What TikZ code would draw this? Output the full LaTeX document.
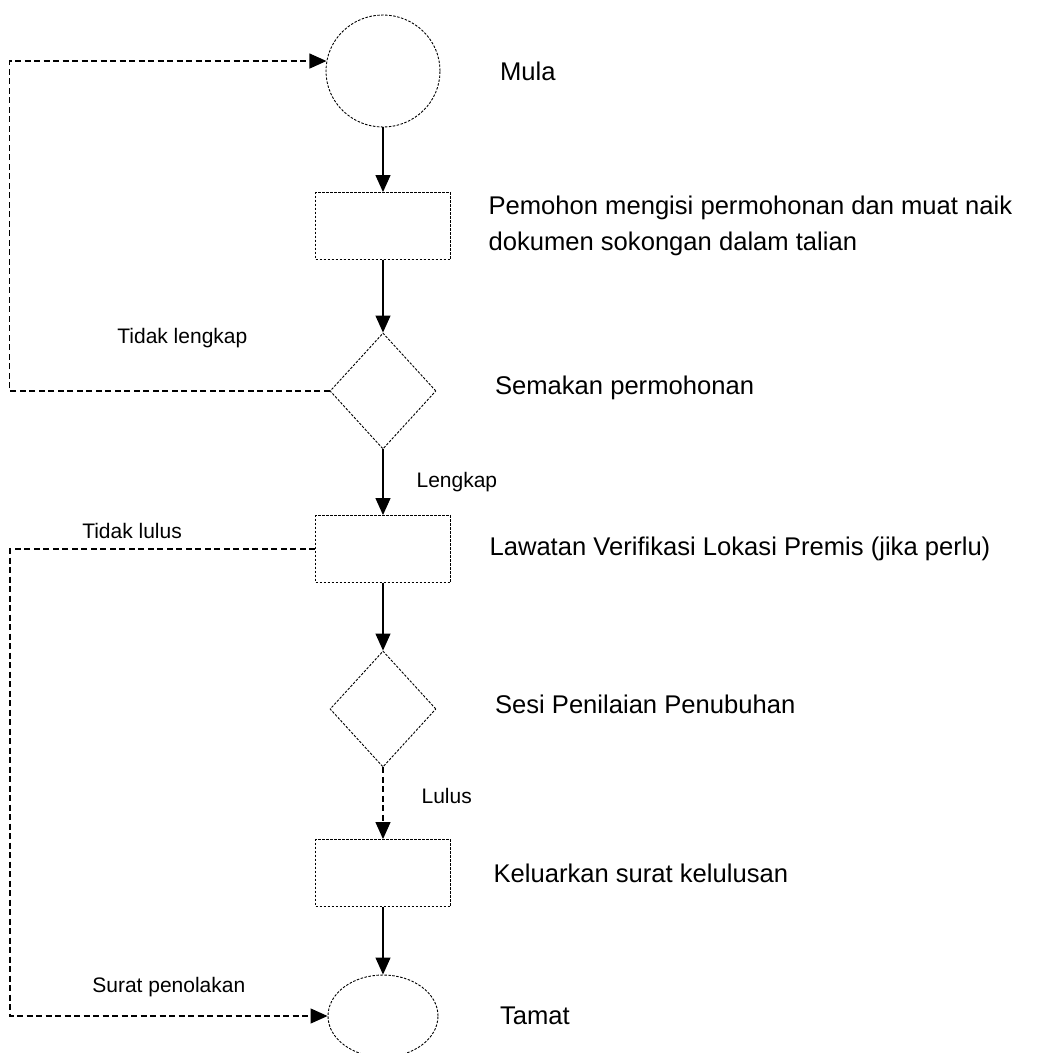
\documentclass[tikz,border=0pt]{standalone}
\usepackage{fontspec}
\setmainfont{Liberation Sans}
\usetikzlibrary{positioning,shapes.geometric,arrows.meta}

\begin{document}
\begin{tikzpicture}[node distance={160pt}, line width=1.2pt,
    >={Triangle[width=15pt,length=17pt]},
    outline/.style={draw, line width=0.9pt, dash pattern=on 2.5pt off 1.5pt, inner sep=0pt},
    terminal/.style={outline, ellipse},
    process/.style={outline, rectangle, minimum width=135pt, minimum height=67pt},
    decision/.style={outline, diamond, minimum width=106pt, minimum height=116pt},
    note/.style={inner sep=0pt, font=\fontsize{25.6}{36}\selectfont, align=left},
    tag/.style={inner sep=0pt, font=\fontsize{21}{24}\selectfont},
    flowdash/.style={dash pattern=on 6pt off 3.5pt}]

  \useasboundingbox (0pt,0pt) rectangle (1043pt,-1053pt);

  \node (mula) [terminal, minimum width=114pt, minimum height=112pt] at (383pt,-71pt) {};
  \node (isi) [process, node distance=155pt, below of=mula] {};
  \node (semak) [decision, node distance=165pt, below of=isi] {};
  \node (lawatan) [process, node distance=158pt, below of=semak] {};
  \node (sesi) [decision, below of=lawatan] {};
  \node (surat) [process, node distance=164pt, below of=sesi] {};
  \node (tamat) [terminal, node distance=143pt, below of=surat, minimum width=110pt, minimum height=82pt] {};

  \node (mula_t) [note, right=59pt of mula] {Mula};
  \node (isi_t) [note, right=37pt of isi] {Pemohon mengisi permohonan dan muat naik\\dokumen sokongan dalam talian};
  \node (semak_t) [note, right=58pt of semak, yshift=3pt] {Semakan permohonan};
  \node (lawatan_t) [note, right=38pt of lawatan] {Lawatan Verifikasi Lokasi Premis (jika perlu)};
  \node (sesi_t) [note, right=58pt of sesi, yshift=5pt] {Sesi Penilaian Penubuhan};
  \node (surat_t) [note, right=42pt of surat] {Keluarkan surat kelulusan};
  \node (tamat_t) [note, right=61pt of tamat] {Tamat};

  \draw[->] (mula) to (isi);
  \draw[->] (isi) to (semak);
  \draw[->] (semak) to node[tag, right=33pt] {Lengkap} (lawatan);
  \draw[->] (lawatan) to (sesi);
  \draw[->, flowdash] (sesi) to node[tag, right=38pt, pos=0.4] {Lulus} (surat);
  \draw[->] (surat) to (tamat);

  \draw[->, flowdash] (semak.west) -- node[tag, above=43pt, pos=0.46] {Tidak lengkap} ++(-320pt,0) |- (mula.170);
  \draw[->, flowdash] (lawatan.west) -- node[tag, above=10pt, pos=0.6] {Tidak lulus} ++(-305pt,0)
    |- node[tag, above=19pt, pos=0.75] {Surat penolakan} (tamat.west);

\end{tikzpicture}
\end{document}
